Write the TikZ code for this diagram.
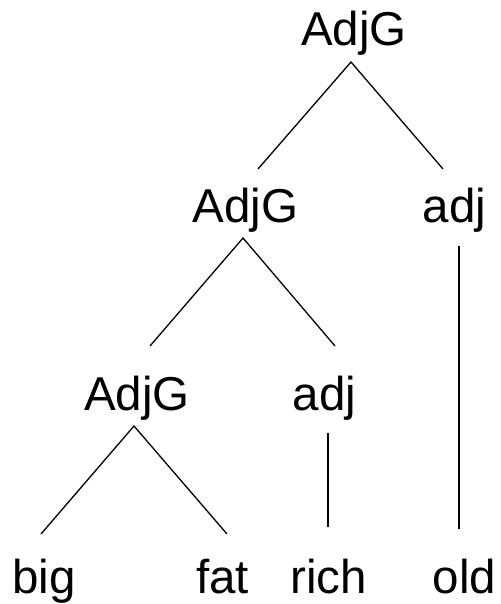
\documentclass[tikz,border=0pt]{standalone}
\usepackage{fontspec}
\setmainfont{Liberation Sans}
\begin{document}
\begin{tikzpicture}[x=1pt,y=-1pt,
  lbl/.style={anchor=base,inner sep=0pt,font=\fontsize{47.5}{57}\selectfont},
  edge/.style={line width=1.3pt}]
\useasboundingbox (0,0) rectangle (500,604);
% labels
\node[lbl] (r) at (354,46) {AdjG};
\node[lbl] (g1) at (245.5,222) {AdjG};
\node[lbl] (a1) at (454.5,222) {adj};
\node[lbl] (g2) at (137,410) {AdjG};
\node[lbl] (a2) at (324.5,410) {adj};
\node[lbl] (big) at (44,593) {big};
\node[lbl] (fat) at (222.5,593) {fat};
\node[lbl] (rich) at (328.5,593) {rich};
\node[lbl] (old) at (464.5,593) {old};
% connector end points
\coordinate (rB) at (351,62);
\coordinate (g1T) at (258,169);
\coordinate (a1T) at (443,169);
\coordinate (g1B) at (243,238);
\coordinate (g2T) at (150,346);
\coordinate (a2T) at (335,346);
\coordinate (a1B) at (459,246);
\coordinate (oldT) at (459,529);
\coordinate (g2B) at (134,426);
\coordinate (bigT) at (41,534);
\coordinate (fatT) at (227,534);
\coordinate (a2B) at (328,433);
\coordinate (richT) at (328,527);
% connectors
\draw[edge] (g1T) -- (rB) -- (a1T);
\draw[edge] (g2T) -- (g1B) -- (a2T);
\draw[edge] (a1B) -- (oldT);
\draw[edge] (bigT) -- (g2B) -- (fatT);
\draw[edge] (a2B) -- (richT);
\end{tikzpicture}
\end{document}
